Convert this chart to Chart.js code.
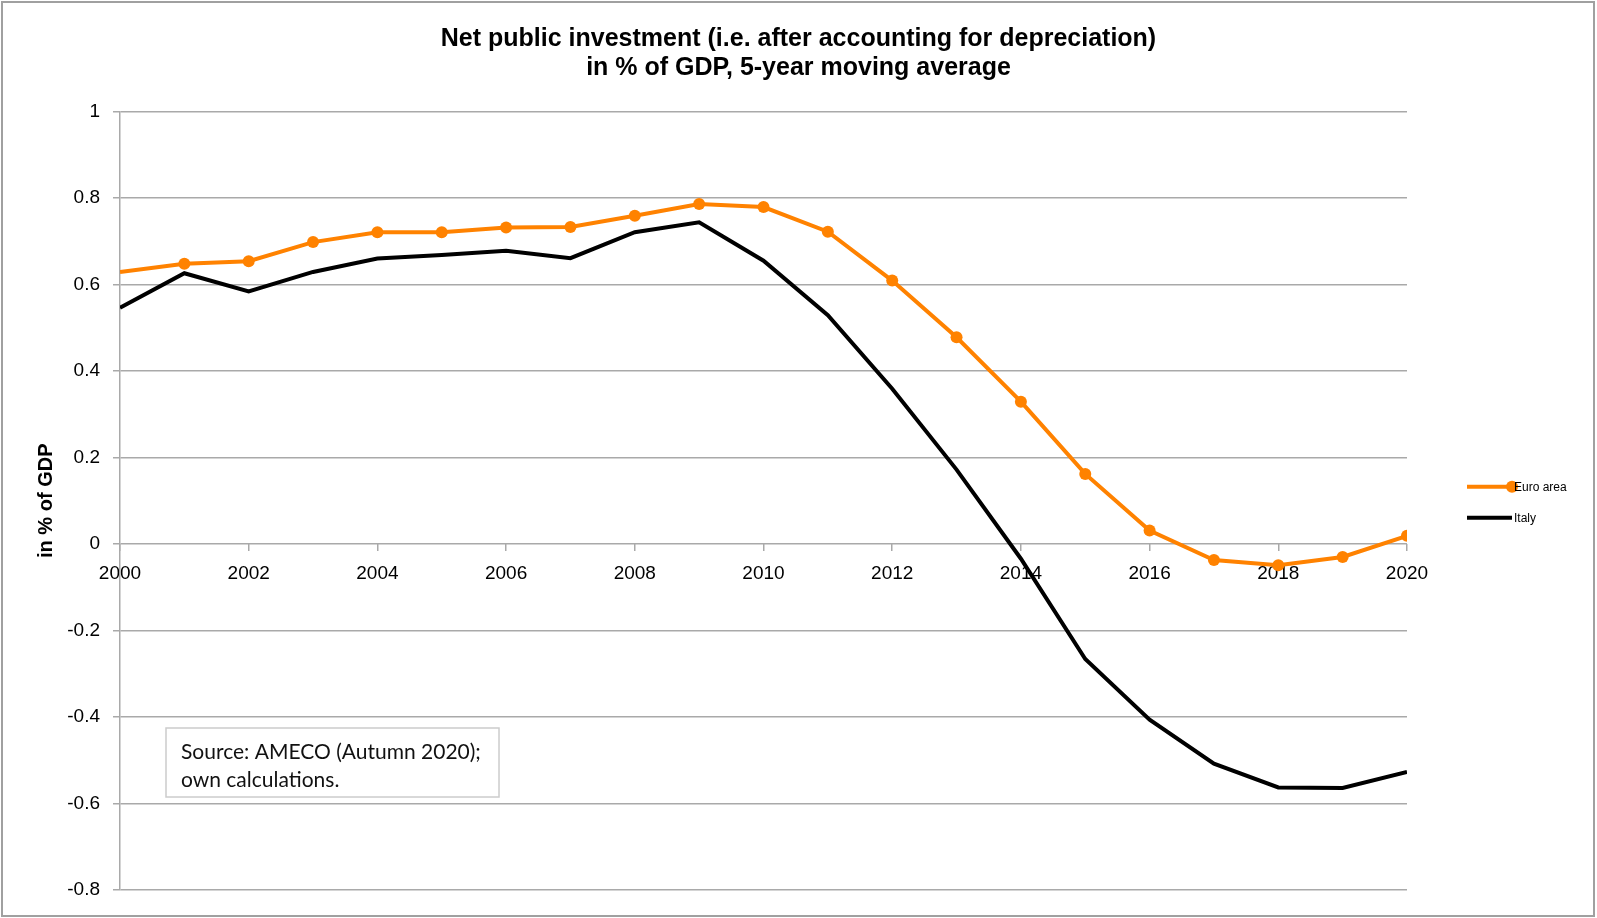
<!DOCTYPE html>
<html>
<head>
<meta charset="utf-8">
<script src="https://cdn.jsdelivr.net/npm/chart.js@4.4.1/dist/chart.umd.min.js"></script>
<style>
  html, body { margin: 0; padding: 0; background: #fff; }
  canvas { display: block; }
</style>
</head>
<body>
<canvas id="mycanvas" width="1597" height="918"></canvas>
<script>
// data
var years = ['2000', '2001', '2002', '2003', '2004', '2005', '2006', '2007', '2008', '2009', '2010',
             '2011', '2012', '2013', '2014', '2015', '2016', '2017', '2018', '2019', '2020'];
var euroArea = [0.629, 0.648, 0.654, 0.698, 0.721, 0.721, 0.732, 0.733, 0.759, 0.786, 0.779,
                0.722, 0.609, 0.478, 0.329, 0.162, 0.031, -0.037, -0.049, -0.030, 0.019];
var italy = [0.546, 0.626, 0.584, 0.629, 0.660, 0.668, 0.678, 0.661, 0.721, 0.744, 0.655,
             0.529, 0.359, 0.172, -0.034, -0.266, -0.406, -0.508, -0.563, -0.564, -0.527];
var titleLines = ['Net public investment (i.e. after accounting for depreciation)', 'in % of GDP, 5-year moving average'];
var yTitle = 'in % of GDP';
var sourceLines = ['Source: AMECO (Autumn 2020);', 'own calculations.'];

var gridGray = '#a9a9a9';
var dotSize = 6;

// frame, title (centred on the whole page), source note and the small legend on the right
var extras = {
    id: 'extras',
    beforeDraw: function(chart) {
        var ctx = chart.ctx;
        ctx.save();
        ctx.fillStyle = '#fff';
        ctx.fillRect(0, 0, chart.width, chart.height);
        ctx.restore();
    },
    afterDraw: function(chart) {
        var ctx = chart.ctx;
        var area = chart.chartArea;
        ctx.save();

        ctx.strokeStyle = '#a0a0a0';
        ctx.lineWidth = 2;
        ctx.strokeRect(2, 2, chart.width - 5, chart.height - 4);

        ctx.fillStyle = '#000';
        ctx.font = 'bold 25px "Liberation Sans"';
        ctx.textAlign = 'center';
        ctx.textBaseline = 'middle';
        ctx.fillText(titleLines[0], chart.width / 2, 39);
        ctx.fillText(titleLines[1], chart.width / 2, 68);
        ctx.textAlign = 'left';

        ctx.strokeStyle = '#cccccc';
        ctx.lineWidth = 1.5;
        ctx.strokeRect(area.left + 46, 728, 333, 69);
        ctx.fillStyle = '#111';
        ctx.font = '21px Lato';
        ctx.fillText(sourceLines[0], area.left + 61, 752);
        ctx.fillText(sourceLines[1], area.left + 61, 780);

        var cy = (area.top + area.bottom) / 2;
        chart.data.datasets.forEach(function(ds, i) {
            var y = cy - 14 + i * 31;
            var x0 = area.right + 60;
            ctx.strokeStyle = ds.borderColor;
            ctx.lineWidth = ds.borderWidth;
            ctx.beginPath();
            ctx.moveTo(x0, y);
            ctx.lineTo(x0 + 45, y);
            ctx.stroke();
            if (ds.showDots) {
                ctx.fillStyle = ds.pointBackgroundColor;
                ctx.beginPath();
                ctx.arc(x0 + 45, y, 6, 0, Math.PI * 2);
                ctx.fill();
            }
            ctx.fillStyle = '#000';
            ctx.font = '12px "Liberation Sans"';
            ctx.fillText(ds.label, x0 + 47, y + 1);
        });
        ctx.restore();
    }
};

var chartdata = {
    labels: years,
    datasets: [
        {
            label: 'Euro area',
            data: euroArea,
            showDots: true,
            borderColor: '#ff8200',
            backgroundColor: '#ff8200',
            pointBackgroundColor: '#ff8200',
            pointBorderWidth: 0,
            // the first marker is not shown in the original
            pointRadius: function(c) { return c.dataIndex === 0 ? 0 : dotSize; },
            borderWidth: 4,
            tension: 0,
            clip: 0
        },
        {
            label: 'Italy',
            data: italy,
            showDots: false,
            borderColor: '#000000',
            backgroundColor: '#000000',
            pointBackgroundColor: '#000000',
            pointRadius: 0,
            borderWidth: 4,
            tension: 0,
            clip: 0
        }
    ]
};

var ctx = document.getElementById('mycanvas');

var lineGraph = new Chart(ctx, {
    type: 'line',
    data: chartdata,
    plugins: [extras],
    options: {
        responsive: false,
        animation: false,
        layout: { padding: { left: 0, right: 190, top: 111.5, bottom: 28 } },
        plugins: {
            legend: { display: false },
            tooltip: { enabled: false },
            title: { display: false }
        },
        scales: {
            x: {
                position: { y: 0 },
                grid: { drawOnChartArea: false, drawTicks: true, tickLength: 7, color: gridGray, lineWidth: 1.5 },
                border: { display: false },
                ticks: {
                    color: '#000',
                    font: { family: '"Liberation Sans"', size: 19 },
                    padding: 11,
                    maxRotation: 0,
                    autoSkip: false,
                    callback: function(value, index) {
                        return index % 2 === 0 ? this.getLabelForValue(value) : null;
                    }
                }
            },
            y: {
                min: -0.8,
                max: 1,
                grid: { color: gridGray, lineWidth: 1.5, tickLength: 7 },
                border: { display: true, color: gridGray, width: 1.5 },
                ticks: {
                    stepSize: 0.2,
                    color: '#000',
                    font: { family: '"Liberation Sans"', size: 19 },
                    padding: 13,
                    callback: function(value) {
                        return String(Number(value.toFixed(1)));
                    }
                },
                title: {
                    display: true,
                    text: yTitle,
                    color: '#000',
                    font: { family: '"Liberation Sans"', size: 20, weight: 'bold' },
                    padding: { top: 34, bottom: 0 }
                },
                afterFit: function(scale) {
                    scale.width = 120;
                }
            }
        }
    }
});
</script>
</body>
</html>
